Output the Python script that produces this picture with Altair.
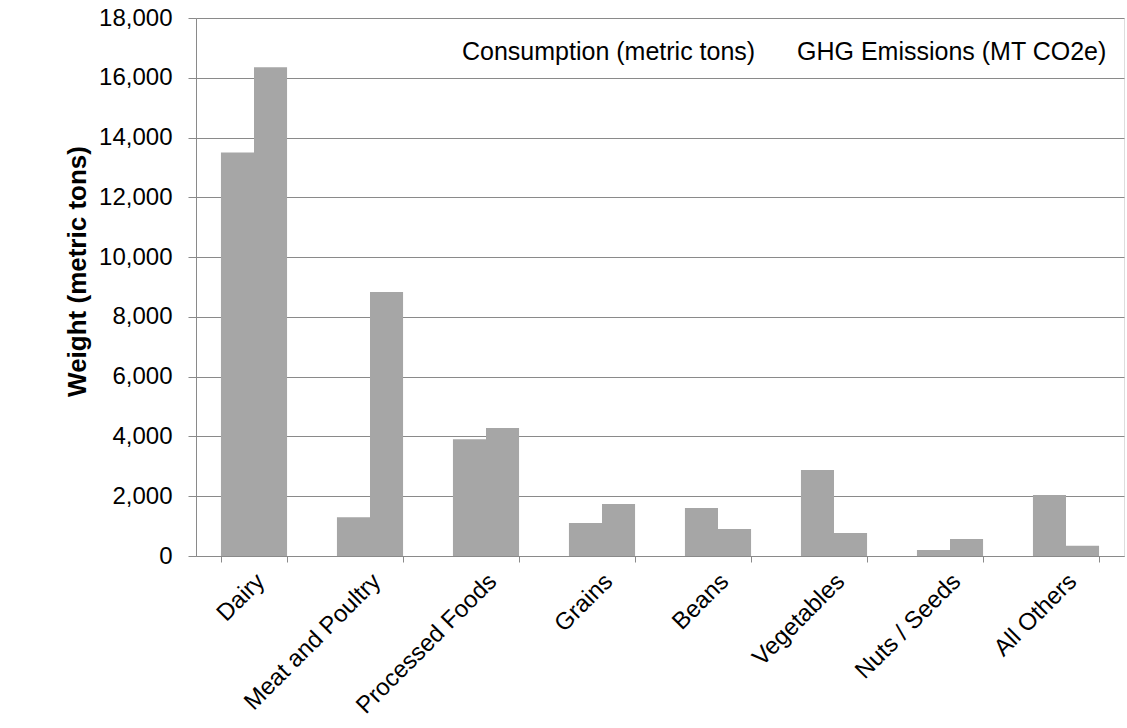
import altair as alt
import pandas as pd

categories = ["Dairy", "Meat and Poultry", "Processed Foods", "Grains", "Beans",
              "Vegetables", "Nuts / Seeds", "All Others"]
series = ["Consumption (metric tons)", "GHG Emissions (MT CO2e)"]
consumption = [13500, 1300, 3910, 1100, 1610, 2880, 200, 2040]
ghg = [16350, 8830, 4280, 1740, 900, 770, 570, 340]
y_ticks = [0, 2000, 4000, 6000, 8000, 10000, 12000, 14000, 16000, 18000]

rows = []
for c, a, b in zip(categories, consumption, ghg):
    rows.append({"category": c, "series": series[0], "value": a})
    rows.append({"category": c, "series": series[1], "value": b})
df = pd.DataFrame(rows)

FONT = "Liberation Sans"
GRID = "#8a8a8a"
FS = 24

chart = alt.Chart(df).mark_bar(color="#a6a6a6").encode(
    x=alt.X("category:N", sort=categories,
            scale=alt.Scale(paddingInner=0.43, paddingOuter=0.215),
            axis=alt.Axis(title=None, labelAngle=-45, labelFontSize=FS,
                          labelFont=FONT, labelColor="#000000", tickBand="extent",
                          tickSize=6, tickColor=GRID, domainColor=GRID,
                          labelPadding=7, labelOffset=-2, grid=False, labelLimit=300)),
    xOffset=alt.XOffset("series:N", sort=series, scale=alt.Scale(paddingInner=0)),
    y=alt.Y("value:Q", scale=alt.Scale(domain=[0, 18000]),
            axis=alt.Axis(title="Weight (metric tons)", values=y_ticks, format=",.0f",
                          titleFont=FONT, titleFontSize=26, titleFontWeight="bold",
                          titleColor="#000000", titleX=-119, titleY=253,
                          titleBaseline="middle", titleAlign="center",
                          labelFont=FONT, labelFontSize=FS, labelColor="#000000",
                          tickSize=8, tickColor=GRID, domainColor=GRID,
                          gridColor=GRID, labelPadding=16)),
    color=alt.Color("series:N", sort=series,
                    scale=alt.Scale(domain=series, range=["#a6a6a6", "#a6a6a6"]),
                    legend=alt.Legend(title=None, orient="none", direction="horizontal",
                                      legendX=241, legendY=21, symbolSize=0,
                                      symbolStrokeWidth=0, symbolOpacity=0,
                                      labelOffset=0, columnPadding=16, padding=0,
                                      labelFont=FONT, labelFontSize=25,
                                      labelColor="#000000", labelLimit=400)),
).properties(
    width=928, height=538,
    autosize=alt.AutoSizeParams(type="none"),
    padding={"left": 196, "top": 18, "right": 3, "bottom": 172},
).configure_view(stroke=None).configure(background="#ffffff")

chart.save("out.html", embed_options={"renderer": "svg", "actions": False})
